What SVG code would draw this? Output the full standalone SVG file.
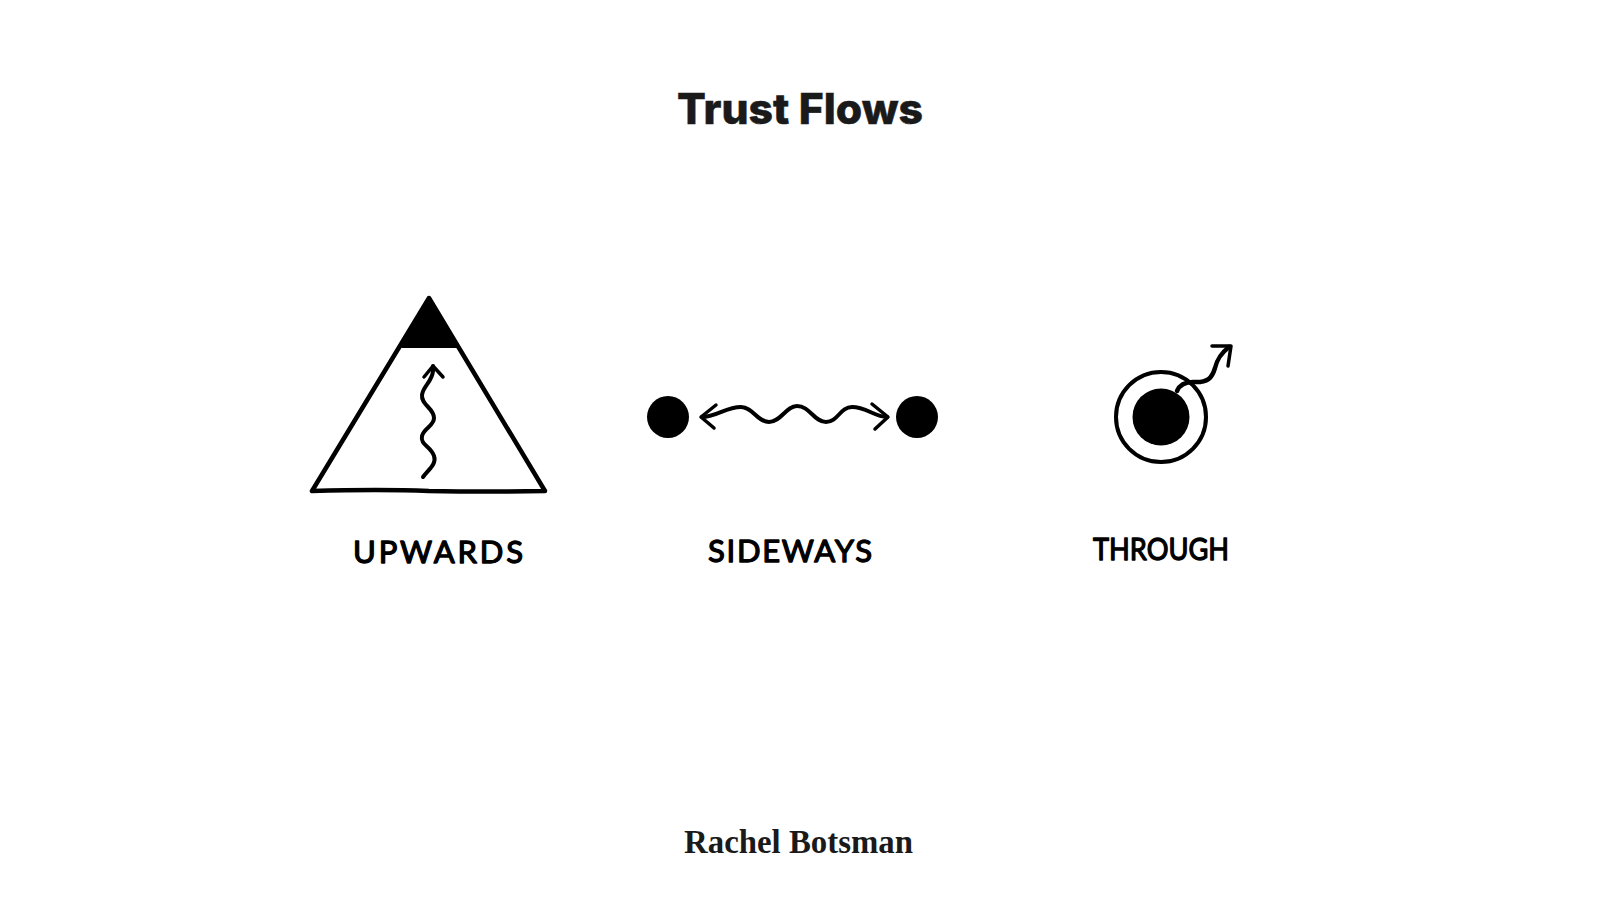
<svg xmlns="http://www.w3.org/2000/svg" width="1600" height="900" viewBox="0 0 1600 900">
<style>
.ink{fill:none;stroke:#000;stroke-linecap:round;stroke-linejoin:round}
.solid{fill:#000}
.hand{font-family:"Lato","Noto Sans",sans-serif;font-weight:400;font-size:31px;fill:#000;stroke:#000;stroke-width:1.3px;stroke-linejoin:round}
.title{font-family:"Inter","Liberation Sans",sans-serif;font-weight:800;font-size:42px;fill:#1a1a1a;stroke:#1a1a1a;stroke-width:.5px}
.credit{font-family:"Liberation Serif",serif;font-weight:700;font-size:33px;fill:#1a1a1a}
</style>
<rect width="1600" height="900" fill="#fff"/>
<text id="title" class="title" x="677" y="124" textLength="246" lengthAdjust="spacingAndGlyphs">Trust Flows</text>
<g id="upwards">
<path class="ink" stroke-width="4.5" d="M429 298L312 491Q380 489 429 491Q490 492 545 491Z"/>
<path class="solid" d="M429 297L458 348H401Z"/>
<text class="hand" x="353" y="563" textLength="170" lengthAdjust="spacing">UPWARDS</text>
</g>
<g id="sideways-left"><circle class="solid" cx="668" cy="417" r="21"/></g>
<g id="sideways-right"><circle class="solid" cx="917" cy="417" r="21"/></g>
<text id="sideways-label" class="hand" x="708" y="562" textLength="164" lengthAdjust="spacing">SIDEWAYS</text>
<g id="through">
<circle class="ink" cx="1161" cy="417" r="45" stroke-width="4"/>
<circle class="solid" cx="1161" cy="417" r="28.5"/>
<text class="hand" x="1093" y="560" textLength="136" lengthAdjust="spacingAndGlyphs">THROUGH</text>
</g>
<g id="connectors">
<path class="ink" stroke-width="4" d="M423 477C428 470 437 464 434 456C431 446 420 445 422 436C424 428 434 426 434 418C434 408 421 405 422 395C423 386 432 382 433 371C433 368 433 367 433 366"/>
<path class="ink" stroke-width="3.5" d="M424 377L433 366L443 377"/>
<path class="ink" stroke-width="4" d="M702 417C716 417 726 407 741 407C753 407 757 422 769 422C781 422 786 406 797 406C810 406 814 422 826 422C838 422 840 407 852 407C866 407 875 417 887 417"/>
<path class="ink" stroke-width="3.5" d="M716 405L701 417L714 428"/>
<path class="ink" stroke-width="3.5" d="M872 404L888 417L875 429"/>
<path class="ink" stroke-width="4.5" d="M1177 391C1180 384 1186 382 1193 382C1208 383 1212 378 1215 368C1217 360 1220 354 1229 347"/>
<path class="ink" stroke-width="3.5" d="M1212 346L1231 346L1228 366"/>
</g>
<text id="credit" class="credit" x="684" y="853" textLength="229" lengthAdjust="spacingAndGlyphs">Rachel Botsman</text>
</svg>
